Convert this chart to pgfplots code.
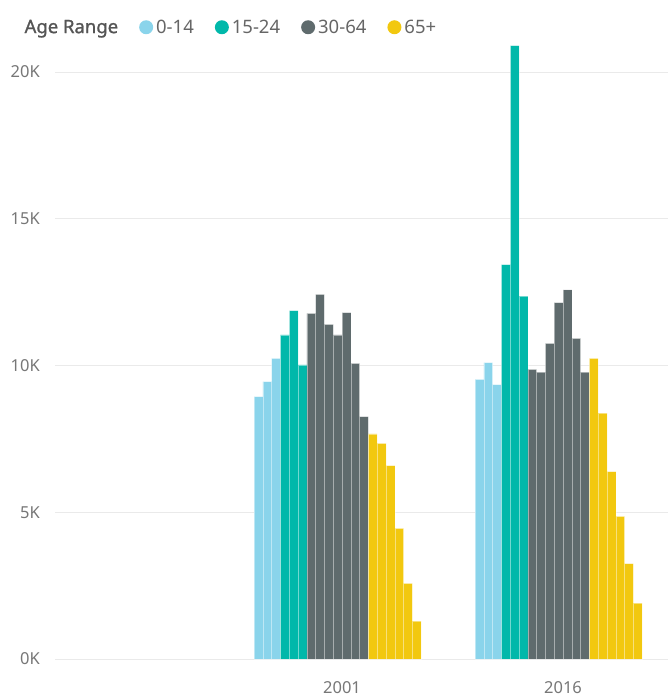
\documentclass[border=0pt]{standalone}
\usepackage{fontspec}
\setmainfont{Noto Sans}[AutoFakeBold=1.2]
\usepackage{pgfplots}
\pgfplotsset{compat=1.18}

\definecolor{kids}{HTML}{8AD4EB}
\definecolor{youth}{HTML}{01B8AA}
\definecolor{adult}{HTML}{5F6B6D}
\definecolor{senior}{HTML}{F2C80F}
\definecolor{gridgray}{HTML}{EAEAEA}
\definecolor{ticktext}{HTML}{777777}
\definecolor{legtext}{HTML}{666666}
\definecolor{legtitle}{HTML}{555555}

\begin{document}
\begin{tikzpicture}
\path[use as bounding box] (-55pt,-39pt) rectangle (613pt,659pt);
\begin{axis}[
  at={(0pt,0pt)}, anchor=south west,
  width=613pt, height=616.35pt, scale only axis,
  ybar, bar shift=0pt, bar width=0.0398,
  xmin=-0.299, xmax=2.475,
  ymin=0, ymax=21000,
  scaled y ticks=false,
  xtick={1,2}, xticklabels={2001,2016},
  ytick={0,5000,10000,15000,20000},
  yticklabels={0K,5K,10K,15K,20K},
  ymajorgrids, grid style={gridgray, line width=0.9pt},
  axis line style={draw=none},
  major tick length=0pt,
  tick label style={font=\fontsize{16.5}{18}\selectfont, text=ticktext},
  yticklabel style={anchor=east, inner sep=0pt, xshift=-15pt},
  xticklabel style={anchor=base, inner sep=0pt, yshift=-34pt},
  every axis plot/.append style={draw=white, draw opacity=0.45, line width=0.6pt},
  legend image code/.code={\fill[#1, draw=none] (7pt,0pt) circle (7pt);},
  legend columns=-1,
  legend style={draw=none, fill=none, inner sep=0pt, outer sep=0pt,
    at={(-0.0545,1.025)}, anchor=west,
    font=\fontsize{18.5}{20}\selectfont, text=legtext,
    nodes={inner sep=0pt},
    /tikz/every odd column/.append style={column sep=3pt},
    /tikz/every even column/.append style={column sep=21pt}},
]
\addlegendimage{empty legend}
\addlegendentry{\textcolor{legtitle}{\bfseries Age Range}}

% 0-14
\addplot[fill=kids] coordinates {
  (0.6219,8940) (0.6617,9450) (0.7015,10240)
  (1.6219,9530) (1.6617,10100) (1.7015,9350)
};
\addlegendentry{0-14}

% 15-24
\addplot[fill=youth] coordinates {
  (0.7413,11040) (0.7811,11870) (0.8209,10020)
  (1.7413,13440) (1.7811,20900) (1.8209,12360)
};
\addlegendentry{15-24}

% 30-64
\addplot[fill=adult] coordinates {
  (0.8607,11780) (0.9005,12420) (0.9403,11400) (0.9801,11040)
  (1.0199,11800) (1.0597,10070) (1.0995,8260)
  (1.8607,9870) (1.9005,9770) (1.9403,10750) (1.9801,12140)
  (2.0199,12580) (2.0597,10920) (2.0995,9770)
};
\addlegendentry{30-64}

% 65+
\addplot[fill=senior] coordinates {
  (1.1393,7670) (1.1791,7350) (1.2189,6590) (1.2587,4450)
  (1.2985,2580) (1.3383,1290)
  (2.1393,10240) (2.1791,8380) (2.2189,6380) (2.2587,4860)
  (2.2985,3250) (2.3383,1900)
};
\addlegendentry{65+}
\end{axis}
\end{tikzpicture}
\end{document}
